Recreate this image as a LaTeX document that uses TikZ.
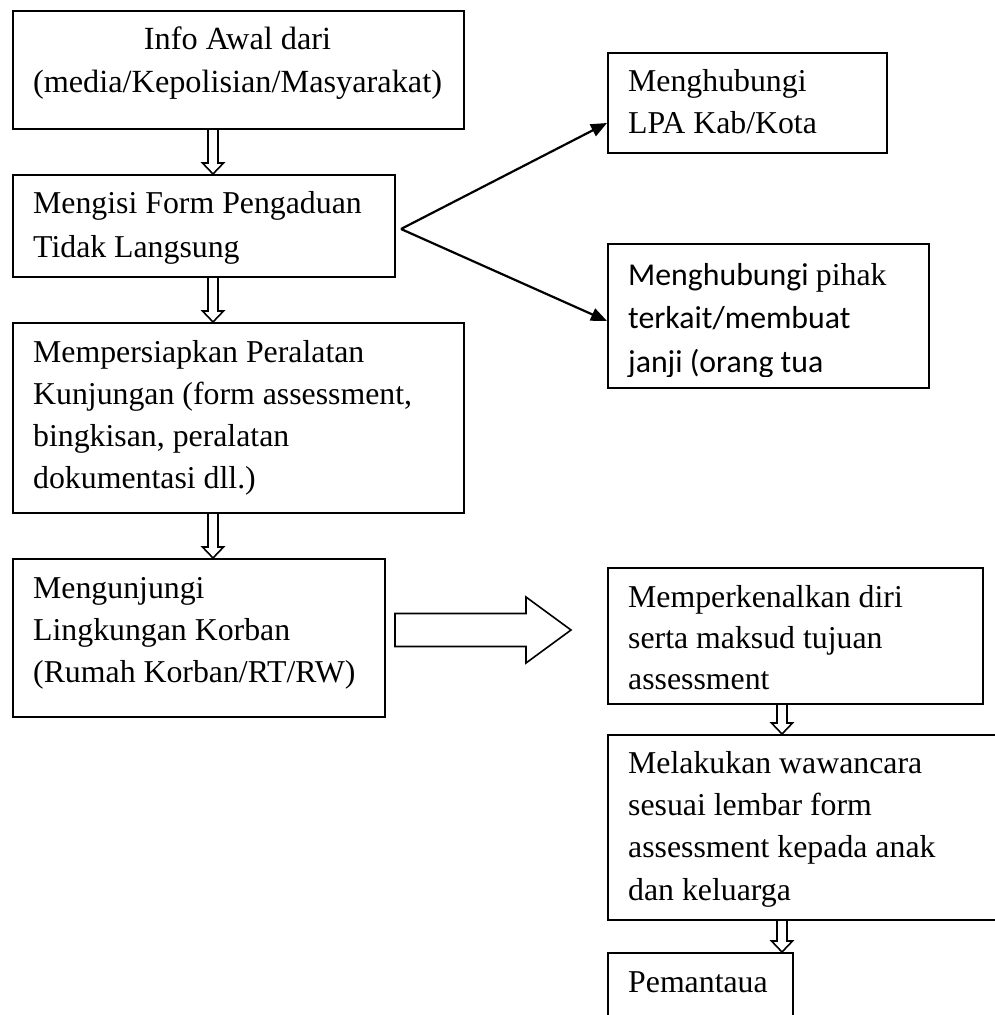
\documentclass[tikz,border=0pt]{standalone}
\usepackage{fontspec}
\setmainfont{Liberation Serif}
\newfontfamily\calibrifont{Carlito}
\usetikzlibrary{calc,arrows.meta}
\tikzset{
  box/.style={draw, line width=2pt, inner sep=0pt, anchor=north west},
  txt/.style={anchor=base west, inner sep=0pt, align=left, font=\fontsize{31.8}{42.3}\selectfont},
  hollowarrow/.style={draw, line width=1.6pt, line join=miter},
  forkarrow/.style={line width=2.2pt, -{Triangle[length=16pt,width=13pt]}},
}
\newcommand{\hollowdown}[2]{%
  \draw[hollowarrow] let \p1=(#1), \p2=(#2) in
    (\x1-5pt,\y1) -- (\x1-5pt,\y2+11pt) -- (\x1-10.5pt,\y2+11pt) -- (\x1,\y2)
    -- (\x1+10.5pt,\y2+11pt) -- (\x1+5pt,\y2+11pt) -- (\x1+5pt,\y1);}
\begin{document}
\begin{tikzpicture}[x=1pt,y=-1pt]
\useasboundingbox (0,0) rectangle (994,1015);
\fill[white] (0,0) rectangle (994,1015);

% left column boxes
\node[box, minimum width=451pt, minimum height=118pt] (b1) at (12,10) {};
\node[box, minimum width=382pt, minimum height=102pt] (b2) at (12,174) {};
\node[box, minimum width=451pt, minimum height=190pt] (b3) at (12,322) {};
\node[box, minimum width=372pt, minimum height=158pt] (b4) at (12,558) {};
% right column boxes
\node[box, minimum width=279pt, minimum height=100pt] (bA) at (607,52) {};
\node[box, minimum width=321pt, minimum height=144pt] (bB) at (607,243) {};
\node[box, minimum width=375pt, minimum height=136pt] (bC) at (607,567) {};
\node[box, minimum width=410pt, minimum height=185pt] (bD) at (607,734) {};
\node[box, minimum width=185pt, minimum height=90pt] (bE) at (607,952) {};

% texts (anchor base = baseline of the last line)
\node[txt, anchor=base, align=center, font=\fontsize{32.3}{43}\selectfont] (t1) at (237.5,92)
  {Info Awal dari\\(media/Kepolisian/Masyarakat)};
\node[txt, font=\fontsize{31.8}{44}\selectfont] (t2) at (33,257) {Mengisi Form Pengaduan\\Tidak Langsung};
\node[txt, font=\fontsize{31.8}{42}\selectfont] (t3) at (33,488)
  {Mempersiapkan Peralatan\\Kunjungan (form assessment,\\bingkisan, peralatan\\dokumentasi dll.)};
\node[txt, font=\fontsize{31.8}{42}\selectfont] (t4) at (33,682)
  {Mengunjungi\\Lingkungan Korban\\(Rumah Korban/RT/RW)};
\node[txt, font=\fontsize{31.8}{42}\selectfont] (tA) at (628,133) {Menghubungi\\LPA Kab/Kota};
\begin{scope}
  \clip (600,240) rectangle (935,376);
  \node[txt, font=\calibrifont\fontsize{31.8}{43.5}\selectfont] (tB) at (628,372)
    {Menghubungi {\rmfamily pihak}\\terkait/membuat\\janji (orang tua};
\end{scope}
\node[txt, font=\fontsize{31.8}{41}\selectfont] (tC) at (628,689)
  {Memperkenalkan diri\\serta maksud tujuan\\assessment};
\node[txt, font=\fontsize{31.8}{42.3}\selectfont] (tD) at (628,900)
  {Melakukan wawancara\\sesuai lembar form\\assessment kepada anak\\dan keluarga};
\node[txt] (tE) at (628,992) {Pemantaua};

% hollow down arrows
\hollowdown{[xshift=201pt]b1.south west}{[xshift=201pt]b2.north west}
\hollowdown{[xshift=201pt]b2.south west}{[xshift=201pt]b3.north west}
\hollowdown{[xshift=201pt]b3.south west}{[xshift=201pt]b4.north west}
\hollowdown{[xshift=175pt]bC.south west}{[xshift=175pt]bD.north west}
\hollowdown{[xshift=175pt]bD.south west}{[xshift=175pt]bE.north west}

% big hollow right arrow
\draw[hollowarrow] let \p1=([xshift=9pt,yshift=-72pt]b4.north east),
                       \p2=([xshift=-36pt,yshift=-63pt]bC.north west) in
  (\x1,\y1+16.5pt) -- (\x2-45pt,\y1+16.5pt) -- (\x2-45pt,\y1+33pt) -- (\x2,\y1)
  -- (\x2-45pt,\y1-33pt) -- (\x2-45pt,\y1-16.5pt) -- (\x1,\y1-16.5pt) -- cycle;

% fork arrows
\coordinate (fk) at ([xshift=5pt,yshift=-3pt]b2.east);
\draw[forkarrow] (fk) -- ([yshift=-20pt]bA.west);
\draw[forkarrow] (fk) -- ([yshift=-5pt]bB.west);
\end{tikzpicture}
\end{document}
